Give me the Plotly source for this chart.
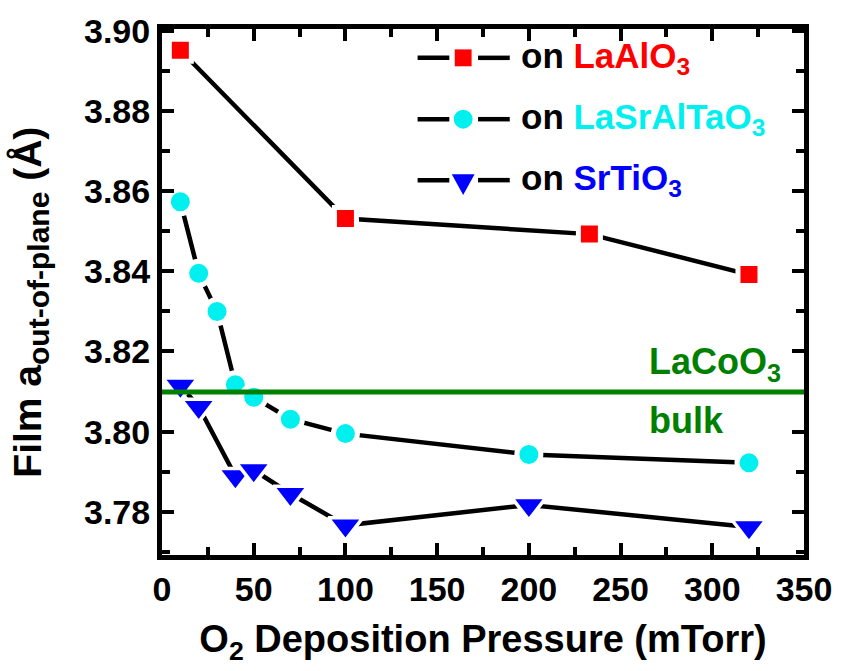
import plotly.graph_objects as go

# ---- data ----
pressure_LAO = [10, 100, 233, 320]
a_LAO = [3.8952, 3.8532, 3.8493, 3.8392]

pressure_LSAT = [10, 20, 30, 40, 50, 70, 100, 200, 320]
a_LSAT = [3.8574, 3.8395, 3.8300, 3.8117, 3.8086, 3.8031, 3.7995, 3.7943, 3.7922]

pressure_STO = [10, 20, 40, 50, 70, 100, 200, 320]
a_STO = [3.8115, 3.8062, 3.7889, 3.7904, 3.7845, 3.7766, 3.7817, 3.7762]

bulk_LaCoO3 = 3.8099

x_range = [0, 350]
y_range = [3.7692, 3.9005]
x_major_ticks = [0, 50, 100, 150, 200, 250, 300, 350]
y_major_ticks = [3.78, 3.80, 3.82, 3.84, 3.86, 3.88, 3.90]
y_tick_labels = ["3.78", "3.80", "3.82", "3.84", "3.86", "3.88", "3.90"]

series_names = ["LaAlO<sub>3</sub>", "LaSrAlTaO<sub>3</sub>", "SrTiO<sub>3</sub>"]
series_colors = ["#FF0000", "#00F0F0", "#0000FF"]
series_symbols = ["square", "circle", "triangle-down"]
series_sizes = [22, 24, 30]
series_borders = [5, 5, 3.5]

FONT = "Liberation Sans"
W, H = 844, 671
ML, MR, MT, MB = 162, 34, 26, 116
PW, PH = W - ML - MR, H - MT - MB


def px(xp):
    return (xp - ML) / PW


def py(yp):
    return (H - MB - yp) / PH


fig = go.Figure()

datasets = [(pressure_LAO, a_LAO), (pressure_LSAT, a_LSAT), (pressure_STO, a_STO)]
for (xs, ys), name, col, sym, sz, bw in zip(datasets, series_names, series_colors,
                                            series_symbols, series_sizes, series_borders):
    fig.add_trace(go.Scatter(
        x=xs, y=ys, mode="lines+markers", name=name, showlegend=False,
        line=dict(color="black", width=4.5),
        marker=dict(symbol=sym, size=sz, color=col, line=dict(color="white", width=bw)),
        cliponaxis=False,
    ))

# ---- manual legend (line - marker - line, then text) ----
leg_rows_px = [55, 116.7, 178]
for i, (row, name, col) in enumerate(zip(leg_rows_px, series_names, series_colors)):
    for x0, x1 in [(420, 452), (481, 513)]:
        fig.add_shape(type="line", xref="paper", yref="paper",
                      x0=px(x0), x1=px(x1), y0=py(row), y1=py(row),
                      line=dict(color="black", width=4.5))
    if i == 0:
        fig.add_shape(type="rect", xref="paper", yref="paper",
                      x0=px(457.5), x1=px(474.5), y0=py(row - 8.5), y1=py(row + 8.5),
                      fillcolor=col, line=dict(width=0))
    elif i == 1:
        fig.add_shape(type="circle", xref="paper", yref="paper",
                      x0=px(456.5), x1=px(475.5), y0=py(row - 9.5), y1=py(row + 9.5),
                      fillcolor=col, line=dict(width=0))
    else:
        path = (f"M {px(454.5)},{py(row - 6)} L {px(477.5)},{py(row - 6)} "
                f"L {px(466)},{py(row + 15)} Z")
        fig.add_shape(type="path", xref="paper", yref="paper", path=path,
                      fillcolor=col, line=dict(width=0))
    fig.add_annotation(
        xref="paper", yref="paper", x=px(522), y=py(row), xanchor="left", yanchor="middle",
        showarrow=False,
        text=f"on <span style='color:{col}'>{name}</span>",
        font=dict(family=FONT, size=35, color="black", weight="bold"),
    )

# bulk LaCoO3 reference line
fig.add_shape(type="line", xref="paper", yref="y", x0=0, x1=1, y0=bulk_LaCoO3, y1=bulk_LaCoO3,
              line=dict(color="#008000", width=5), layer="above")
fig.add_annotation(xref="x", yref="y", x=264.5, y=3.8182, xanchor="left", yanchor="middle",
                   yshift=-5, showarrow=False, text="LaCoO<sub>3</sub>",
                   font=dict(family=FONT, size=36, color="#008000", weight="bold"))
fig.add_annotation(xref="x", yref="y", x=264.5, y=3.8027, xanchor="left", yanchor="middle",
                   showarrow=False, text="bulk",
                   font=dict(family=FONT, size=36, color="#008000", weight="bold"))

# y-axis title (rotated annotation placed as in the reference)
fig.add_annotation(xref="paper", yref="paper", x=px(29), y=py(301), xanchor="center",
                   yanchor="middle", textangle=-90, showarrow=False,
                   text="Film a<sub><span style='font-size:30px'>out-of-plane</span></sub> (Å)",
                   font=dict(family=FONT, size=39, color="black", weight="bold"))

axis_common = dict(
    showline=True, linecolor="black", linewidth=5, mirror="allticks",
    ticks="inside", ticklen=12, tickwidth=4, tickcolor="black",
    showgrid=False, zeroline=False, layer="above traces",
    tickfont=dict(family=FONT, size=34, color="black", weight="bold"),
)

fig.update_layout(
    width=W, height=H,
    margin=dict(l=ML, r=MR, t=MT, b=MB),
    plot_bgcolor="white", paper_bgcolor="white",
    xaxis=dict(range=x_range, tickvals=x_major_ticks,
               minor=dict(dtick=25, ticks="inside", ticklen=8, tickwidth=4, tickcolor="black"),
               title=dict(text="O<sub>2</sub> Deposition Pressure (mTorr)", standoff=20,
                          font=dict(family=FONT, size=38, color="black", weight="bold")),
               **axis_common),
    yaxis=dict(range=y_range, tickvals=y_major_ticks, ticktext=y_tick_labels,
               minor=dict(dtick=0.01, tick0=3.77, ticks="inside", ticklen=8, tickwidth=4,
                          tickcolor="black"),
               **axis_common),
)

fig.write_html("out.html", config={"staticPlot": True})
